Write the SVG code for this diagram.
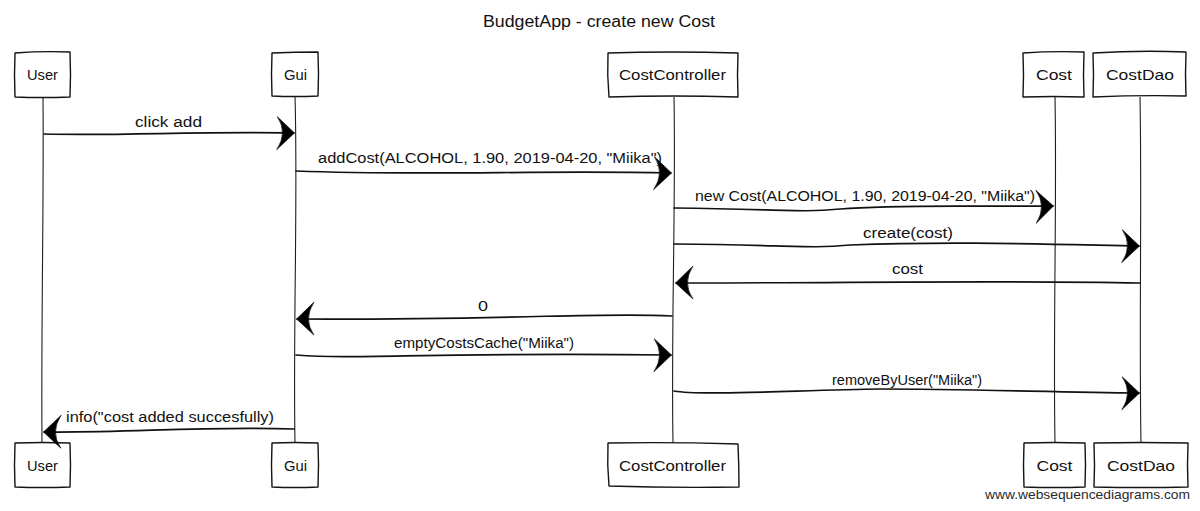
<svg xmlns="http://www.w3.org/2000/svg" width="1200" height="511" viewBox="0 0 1200 511">
  <defs>
    <style>
      .box{fill:#fff;stroke:#141414;stroke-width:1.4;stroke-linejoin:round}
      .life{fill:none;stroke:#1e1e1e;stroke-width:1.1}
      .msg{fill:none;stroke:#111;stroke-width:1.7;stroke-linecap:round}
      .lbl{font-family:"Liberation Sans",Arial,sans-serif;font-size:14px;fill:#111}
      .name{font-family:"Liberation Sans",Arial,sans-serif;font-size:14px;fill:#111;text-anchor:middle}
      .title{font-family:"Liberation Sans",Arial,sans-serif;font-size:16px;fill:#111}
      .mark{font-family:"Liberation Sans",Arial,sans-serif;font-size:13px;fill:#2a2a2a}
    </style>
    <!-- barbed, filled arrowhead for synchronous messages -->
    <marker id="head" viewBox="-19 -18 21 36" refX="0" refY="0" markerWidth="21" markerHeight="36" markerUnits="userSpaceOnUse" orient="auto">
      <path d="M0.5,0 L-17,-16 Q-6,0 -17,17 Z" fill="#000" stroke="#000" stroke-width="0.6" stroke-linejoin="round"/>
    </marker>
  </defs>

  <rect width="1200" height="511" fill="#fff"/>

  <text class="title" x="483" y="27" textLength="232" lengthAdjust="spacingAndGlyphs">BudgetApp - create new Cost</text>

  <!-- participants: lifeline, head box, foot box -->
  <g id="user">
    <path class="life" d="M43,97 C44,200 41,330 42,443"/>
    <path class="box" d="M15,53 Q41,51 70,52 Q71,75 70,97 Q42,98 15,97 Q14,75 15,53 Z"/>
    <text class="name" x="42.5" y="80" textLength="31" lengthAdjust="spacingAndGlyphs">User</text>
    <path class="box" d="M15,443 Q42,442 70,443 Q71,466 70,487 Q42,488 15,487 Q14,466 15,443 Z"/>
    <text class="name" x="42.5" y="471" textLength="31" lengthAdjust="spacingAndGlyphs">User</text>
  </g>

  <g id="gui">
    <path class="life" d="M295,96 C298,200 293,330 295,443"/>
    <path class="box" d="M272,53 Q295,52 318,52 Q319,74 318,96 Q295,97 272,96 Q271,74 272,53 Z"/>
    <text class="name" x="295.5" y="80" textLength="23" lengthAdjust="spacingAndGlyphs">Gui</text>
    <path class="box" d="M272,443 Q295,442 318,443 Q319,465 318,487 Q295,488 272,487 Q271,465 272,443 Z"/>
    <text class="name" x="295.5" y="471" textLength="23" lengthAdjust="spacingAndGlyphs">Gui</text>
  </g>

  <g id="costController">
    <path class="life" d="M674,97 C676,200 671,330 673,443"/>
    <path class="box" d="M608,53 Q670,51 738,53 Q737,75 738,97 Q672,95 609,97 Q607,75 608,53 Z"/>
    <text class="name" x="672.5" y="80" textLength="107" lengthAdjust="spacingAndGlyphs">CostController</text>
    <path class="box" d="M608,443 Q672,442 738,444 Q739,466 739,487 Q672,488 609,486 Q607,465 608,443 Z"/>
    <text class="name" x="672.5" y="471" textLength="107" lengthAdjust="spacingAndGlyphs">CostController</text>
  </g>

  <g id="cost">
    <path class="life" d="M1055,97 C1057,200 1053,330 1055,443"/>
    <path class="box" d="M1023,53 Q1053,51 1084,52 Q1083,75 1084,97 Q1053,96 1023,97 Q1024,75 1023,53 Z"/>
    <text class="name" x="1054" y="80" textLength="36" lengthAdjust="spacingAndGlyphs">Cost</text>
    <path class="box" d="M1024,443 Q1054,442 1085,443 Q1086,466 1085,487 Q1054,488 1024,487 Q1023,466 1024,443 Z"/>
    <text class="name" x="1054.5" y="471" textLength="36" lengthAdjust="spacingAndGlyphs">Cost</text>
  </g>

  <g id="costDao">
    <path class="life" d="M1140,97 C1142,200 1139,330 1141,443"/>
    <path class="box" d="M1093,53 Q1140,50 1186,52 Q1185,75 1186,96 Q1140,95 1093,97 Q1094,75 1093,53 Z"/>
    <text class="name" x="1140" y="80" textLength="68" lengthAdjust="spacingAndGlyphs">CostDao</text>
    <path class="box" d="M1094,443 Q1141,442 1188,443 Q1187,466 1188,487 Q1141,488 1094,487 Q1095,466 1094,443 Z"/>
    <text class="name" x="1141" y="471" textLength="68" lengthAdjust="spacingAndGlyphs">CostDao</text>
  </g>

  <!-- messages -->
  <g id="messages">
    <path class="msg" d="M44,134 C120,136 200,131 294,133" marker-end="url(#head)"/>
    <text class="lbl" x="135" y="127" textLength="67" lengthAdjust="spacingAndGlyphs">click add</text>

    <path class="msg" d="M296,171 C420,176 540,170 671,173" marker-end="url(#head)"/>
    <text class="lbl" x="318" y="163" textLength="344" lengthAdjust="spacingAndGlyphs">addCost(ALCOHOL, 1.90, 2019-04-20, "Miika")</text>

    <path class="msg" d="M674,208 C780,209 800,213 840,209 C900,204 980,207 1053,206" marker-end="url(#head)"/>
    <text class="lbl" x="695" y="201" textLength="340" lengthAdjust="spacingAndGlyphs">new Cost(ALCOHOL, 1.90, 2019-04-20, "Miika")</text>

    <path class="msg" d="M674,244 C790,245 810,249 850,245 C950,241 1040,244 1139,246" marker-end="url(#head)"/>
    <text class="lbl" x="863" y="238" textLength="90" lengthAdjust="spacingAndGlyphs">create(cost)</text>

    <path class="msg" d="M1140,283 C1000,280 850,283 676,283" marker-end="url(#head)"/>
    <text class="lbl" x="892" y="274" textLength="31" lengthAdjust="spacingAndGlyphs">cost</text>

    <path class="msg" d="M672,316 C600,312 520,320 297,319" marker-end="url(#head)"/>
    <text class="lbl" x="478" y="311" textLength="10" lengthAdjust="spacingAndGlyphs">0</text>

    <path class="msg" d="M296,355 C360,360 420,352 671,355" marker-end="url(#head)"/>
    <text class="lbl" x="394" y="348" textLength="180" lengthAdjust="spacingAndGlyphs">emptyCostsCache("Miika")</text>

    <path class="msg" d="M674,391 C700,396 800,390 880,389 C960,389 1050,392 1139,393" marker-end="url(#head)"/>
    <text class="lbl" x="832" y="385" textLength="150" lengthAdjust="spacingAndGlyphs">removeByUser("Miika")</text>

    <path class="msg" d="M294,429 C200,426 130,433 44,432" marker-end="url(#head)"/>
    <text class="lbl" x="66" y="422" textLength="208" lengthAdjust="spacingAndGlyphs">info("cost added succesfully)</text>
  </g>

  <text class="mark" x="985" y="499" textLength="205" lengthAdjust="spacingAndGlyphs">www.websequencediagrams.com</text>
</svg>
